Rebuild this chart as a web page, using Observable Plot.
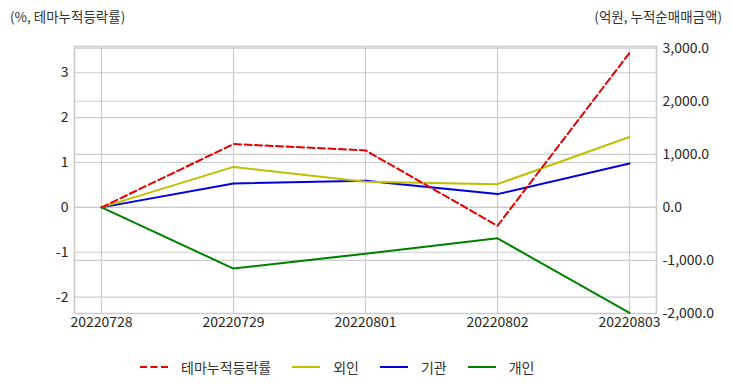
<!DOCTYPE html>
<html>
<head>
<meta charset="utf-8">
<script src="https://cdn.jsdelivr.net/npm/d3@7"></script>
<script src="https://cdn.jsdelivr.net/npm/@observablehq/plot@0.6"></script>
<style>
  html, body { margin: 0; padding: 0; background: #fff; }
  body { font-family: "Noto Sans CJK KR", "Noto Sans", sans-serif; color: #333; }
  #wrap { position: relative; width: 732px; height: 392px; overflow: hidden; }
  .hdr { position: absolute; top: 6px; font-size: 13.5px; color: #333; }
  #hl { left: 10px; }
  #hr { right: 10px; }
  #legend { position: absolute; top: 357px; left: 140px; display: flex; align-items: center; font-size: 14px; color: #333; }
  .item { display: flex; align-items: center; margin-right: 21px; }
  .item svg { margin-right: 13px; }
</style>
</head>
<body>
<div id="wrap">
  <div class="hdr" id="hl">(%, 테마누적등락률)</div>
  <div class="hdr" id="hr">(억원, 누적순매매금액)</div>
  <div id="chart"></div>
  <div id="legend"></div>
</div>
<script>
const dates = ["20220728", "20220729", "20220801", "20220802", "20220803"];
const themeReturn = [0, 1.41, 1.27, -0.41, 3.44];      // left axis, %
const foreign = [0, 763, 481, 438, 1327];             // right axis, 억원
const institution = [0, 451, 500, 250, 827];
const individual = [0, -1154, -872, -583, -1990];
const leftTicks = [-2, -1, 0, 1, 2, 3];
const rightTicks = [-2000, -1000, 0, 1000, 2000, 3000];
const seriesNames = ["테마누적등락률", "외인", "기관", "개인"];
const seriesColors = ["#e60000", "#bfbf00", "#0000e0", "#008000"];

// right-axis values mapped onto the left scale
const k = (53.2 / 45) / 1000;
const toLeft = v => v * k;

const rows = (vals, f) => dates.map((d, i) => ({date: d, v: f(vals[i])}));
const sTheme = rows(themeReturn, v => v);
const sForeign = rows(foreign, toLeft);
const sInst = rows(institution, toLeft);
const sIndiv = rows(individual, toLeft);

const grid = "#cccccc";
const chart = Plot.plot({
  width: 732,
  height: 392,
  marginLeft: 74,
  marginRight: 76,
  marginTop: 46,
  marginBottom: 79,
  style: {fontFamily: "'Noto Sans CJK KR', 'Noto Sans', sans-serif", fontSize: "14px", color: "#333", background: "#fff"},
  x: {type: "point", domain: dates, padding: 0.2},
  y: {domain: [toLeft(-2000), (207.3 - 46) / 45]},
  marks: [
    Plot.gridX(dates, {stroke: grid, strokeOpacity: 1, strokeWidth: 1.2}),
    Plot.gridY(leftTicks, {stroke: grid, strokeOpacity: 1, strokeWidth: 1.2}),
    Plot.gridY(rightTicks.map(toLeft), {stroke: grid, strokeOpacity: 1, strokeWidth: 1.2}),
    Plot.frame({stroke: grid, strokeWidth: 1.6}),
    Plot.line(sIndiv, {x: "date", y: "v", stroke: seriesColors[3], strokeWidth: 2}),
    Plot.line(sInst, {x: "date", y: "v", stroke: seriesColors[2], strokeWidth: 2}),
    Plot.line(sForeign, {x: "date", y: "v", stroke: seriesColors[1], strokeWidth: 2}),
    Plot.line(sTheme, {x: "date", y: "v", stroke: seriesColors[0], strokeWidth: 2, strokeDasharray: "7,3.5"}),
    Plot.axisX({tickSize: 0, tickPadding: 4, label: null, fill: "#262626"}),
    Plot.axisY(leftTicks, {anchor: "left", tickSize: 0, tickPadding: 6, label: null, fill: "#262626", tickFormat: d => String(d)}),
    Plot.axisY(rightTicks.map(toLeft), {anchor: "right", tickSize: 0, tickPadding: 6, label: null, fill: "#262626",
      tickFormat: d => d3.format(",.1f")(Math.round(d / k)).replace("−", "-")})
  ]
});
document.getElementById("chart").appendChild(chart);

const legend = document.getElementById("legend");
seriesNames.forEach((name, i) => {
  const item = document.createElement("div");
  item.className = "item";
  const dash = i === 0 ? ' stroke-dasharray="7,3.5"' : '';
  item.innerHTML = `<svg width="28" height="10"><line x1="0" y1="5" x2="28" y2="5" stroke="${seriesColors[i]}" stroke-width="2"${dash}/></svg><span>${name}</span>`;
  legend.appendChild(item);
});
</script>
</body>
</html>
